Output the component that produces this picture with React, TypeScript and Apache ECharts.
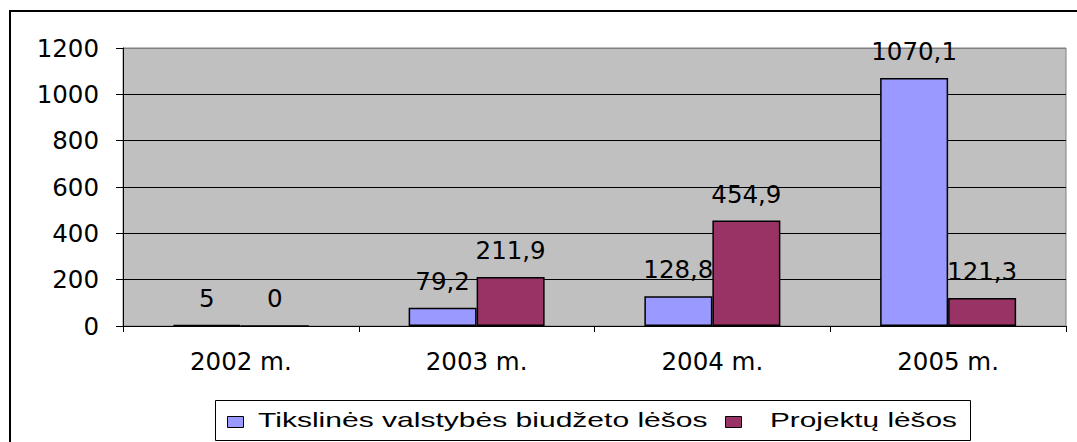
import React, { useEffect, useRef } from "react";
import * as echarts from "echarts";

const categories = ["2002 m.", "2003 m.", "2004 m.", "2005 m."];
const seriesNames = ["Tikslinės valstybės biudžeto lėšos", "Projektų lėšos"];
const seriesColors = ["#9999ff", "#993366"];
const budgetValues = [5, 79.2, 128.8, 1070.1];
const projectValues = [0, 211.9, 454.9, 121.3];
const FONT = "DejaVu Sans";
const LEGEND_FONT = "Liberation Sans";

const fmt = (v: number) => String(v).replace(".", ",");

export default function App() {
  const ref = useRef<HTMLDivElement>(null);
  useEffect(() => {
    document.body.style.margin = "0";
    const chart = echarts.init(ref.current!, undefined, { renderer: "svg" });

    // measure legend texts to stretch them horizontally like the reference
    const ctx = document.createElement("canvas").getContext("2d")!;
    const legendFontSize = 21;
    ctx.font = `${legendFontSize}px "${LEGEND_FONT}"`;
    const legendLayout = [
      { iconX: 227, textX: 258, textW: 450 },
      { iconX: 725, textX: 770, textW: 187 },
    ];
    const legendGraphics: any[] = [
      {
        type: "rect",
        shape: { x: 215.5, y: 400.5, width: 755, height: 40 },
        style: { fill: "#fff", stroke: "#000", lineWidth: 1 },
        silent: true,
      },
    ];
    seriesNames.forEach((name, i) => {
      const lay = legendLayout[i];
      const w = ctx.measureText(name).width || lay.textW;
      legendGraphics.push({
        type: "rect",
        shape: { x: lay.iconX + 0.5, y: 416.5, width: 16, height: 11 },
        style: { fill: seriesColors[i], stroke: "#000", lineWidth: 1 },
        silent: true,
      });
      legendGraphics.push({
        type: "text",
        x: lay.textX,
        y: 420,
        scaleX: lay.textW / w,
        style: {
          text: name,
          font: `${legendFontSize}px "${LEGEND_FONT}"`,
          fill: "#000",
          textVerticalAlign: "middle",
          textAlign: "left",
        },
        silent: true,
      });
    });

    const labelCfg = {
      show: true,
      position: "top",
      distance: 14,
      fontFamily: FONT,
      fontSize: 24.5,
      color: "#000",
      formatter: (p: any) => fmt(p.value),
    };
    chart.setOption({
      animation: false,
      backgroundColor: "#fff",
      textStyle: { fontFamily: FONT },
      grid: {
        left: 123,
        right: 11,
        top: 48,
        bottom: 116,
        show: true,
        backgroundColor: "#c0c0c0",
        borderColor: "#808080",
        borderWidth: 1,
      },
      legend: { show: false, data: seriesNames },
      graphic: [
        {
          type: "rect",
          shape: { x: 10, y: 11, width: 1200, height: 600 },
          style: { fill: "none", stroke: "#000", lineWidth: 2 },
          silent: true,
        },
        ...legendGraphics,
      ],
      xAxis: {
        type: "category",
        data: categories,
        axisLine: { lineStyle: { color: "#000", width: 1 } },
        axisTick: { show: true, length: 6, lineStyle: { color: "#000" } },
        axisLabel: { fontFamily: FONT, fontSize: 24.5, color: "#000", margin: 23 },
        splitLine: { show: false },
      },
      yAxis: {
        type: "value",
        min: 0,
        max: 1200,
        interval: 200,
        axisLine: { show: true, lineStyle: { color: "#000", width: 1 } },
        axisTick: { show: true, length: 7, lineStyle: { color: "#000" } },
        axisLabel: {
          fontFamily: FONT,
          fontSize: 24.5,
          color: "#000",
          margin: 24,
          formatter: (v: number) => String(v),
        },
        splitLine: {
          show: true,
          lineStyle: {
            color: ["#000", "#000", "#000", "#000", "#000", "#000", "#808080"],
            width: 1,
          },
        },
      },
      series: [
        {
          name: seriesNames[0],
          type: "bar",
          data: budgetValues,
          barWidth: 68,
          barGap: "0%",
          itemStyle: { color: seriesColors[0], borderColor: "#000", borderWidth: 1.5 },
          label: labelCfg,
        },
        {
          name: seriesNames[1],
          type: "bar",
          data: projectValues,
          barWidth: 68,
          barGap: "0%",
          itemStyle: { color: seriesColors[1], borderColor: "#000", borderWidth: 1.5 },
          label: labelCfg,
        },
      ],
    });
    return () => chart.dispose();
  }, []);
  return <div ref={ref} style={{ width: 1077, height: 442 }} />;
}
